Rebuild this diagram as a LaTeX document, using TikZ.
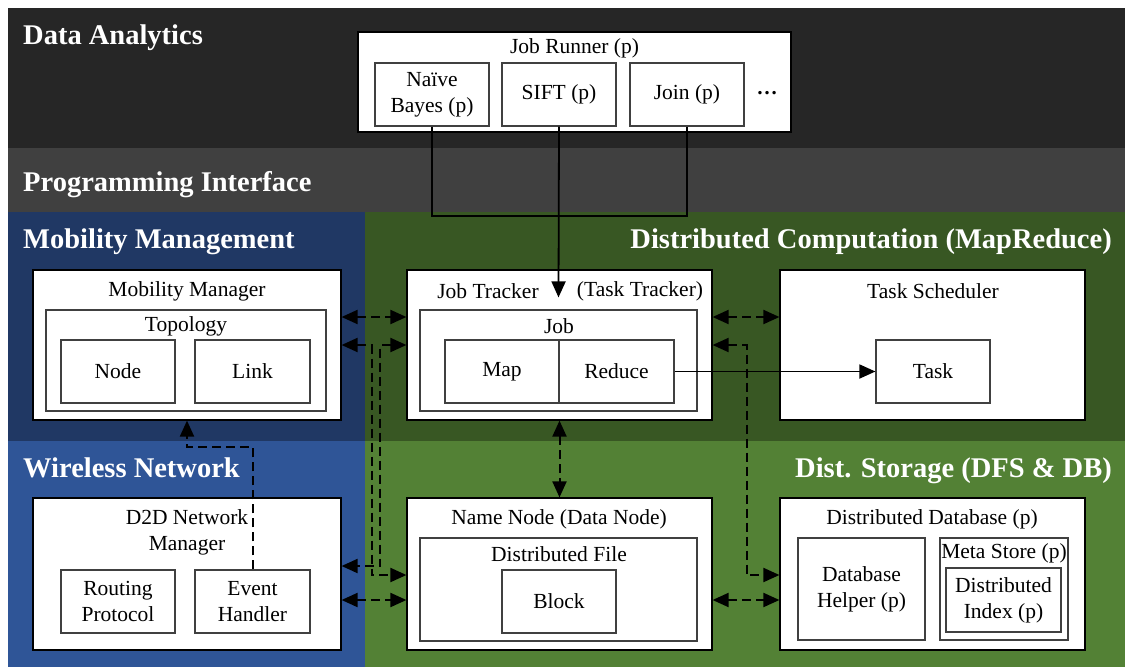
\documentclass[tikz,border=0pt]{standalone}
\usepackage{fontspec}
\setmainfont{Liberation Serif}
\usetikzlibrary{arrows.meta}

\definecolor{analytics}{HTML}{262626}
\definecolor{proginterface}{HTML}{404040}
\definecolor{mobility}{HTML}{203864}
\definecolor{computation}{HTML}{385723}
\definecolor{wireless}{HTML}{2F5597}
\definecolor{storage}{HTML}{538135}

\tikzset{
  outerbox/.style={draw=black, line width=1.2pt, fill=white, inner sep=0pt},
  innerbox/.style={draw=black!75, line width=1.2pt, fill=white, inner sep=0pt, align=center},
  boxtitle/.style={inner sep=0pt, align=center},
  heading/.style={text=white, inner sep=0pt, font=\fontsize{28.5}{32}\selectfont\bfseries},
  flow/.style={line width=1.8pt, -{Triangle[length=16pt,width=14pt]}},
  link/.style={line width=2pt, dash pattern=on 9pt off 5pt,
     {Triangle[length=16pt,width=14pt]}-{Triangle[length=16pt,width=14pt]}},
  linkone/.style={line width=2pt, dash pattern=on 9pt off 5pt, -{Triangle[length=16pt,width=14pt]}}
}

\begin{document}
\begin{tikzpicture}[x=1pt, y=-1pt, font=\fontsize{21.5}{26}\selectfont]
   \useasboundingbox (0,0) rectangle (1125,667);

   % layers
   \fill[analytics] (8,8) rectangle (1125,148);
   \fill[proginterface] (8,148) rectangle (1125,212);
   \fill[mobility] (8,212) rectangle (365,441);
   \fill[computation] (365,212) rectangle (1125,441);
   \fill[wireless] (8,441) rectangle (365,667);
   \fill[storage] (365,441) rectangle (1125,667);

   \node[heading, anchor=base west] (hana) at (23,44) {Data Analytics};
   \node[heading, anchor=base west] (hpro) at (23,191) {Programming Interface};
   \node[heading, anchor=base west] (hmob) at (23,248) {Mobility Management};
   \node[heading, anchor=base east] (hcom) at (1112,248) {Distributed Computation (MapReduce)};
   \node[heading, anchor=base west] (hwir) at (23,477) {Wireless Network};
   \node[heading, anchor=base east] (hsto) at (1112,477) {Dist. Storage (DFS \& DB)};

   % data analytics
   \node[outerbox, minimum width=433, minimum height=100] (runner) at (574.5,82) {};
   \node[boxtitle] (runnert) at (574.5,48) {Job Runner (p)};
   \node[innerbox, minimum width=114, minimum height=63] (nb) at (432,94.5) {Naïve\\Bayes (p)};
   \node[innerbox, minimum width=114, minimum height=63] (sift) at (559,94.5) {SIFT (p)};
   \node[innerbox, minimum width=114, minimum height=63] (join) at (687,94.5) {Join (p)};
   \node[boxtitle, font=\fontsize{21}{25}\selectfont\bfseries] (more) at (767,93) {…};

   % mobility management
   \node[outerbox, minimum width=308, minimum height=150] (mm) at (187,345) {};
   \node[boxtitle] (mmt) at (187,291) {Mobility Manager};
   \node[innerbox, minimum width=280, minimum height=101] (topo) at (186,360.5) {};
   \node[boxtitle] (topot) at (186,326) {Topology};
   \node[innerbox, minimum width=114, minimum height=63] (nodebox) at (118,371.5) {Node};
   \node[innerbox, minimum width=115, minimum height=63] (linkbox) at (252.5,371.5) {Link};

   % distributed computation
   \node[outerbox, minimum width=305, minimum height=150] (jt) at (559.5,345) {};
   \node[boxtitle] (jtt) at (488,291) {Job Tracker};
   \node[boxtitle] (ttt) at (640,291) {(Task Tracker)};
   \node[innerbox, minimum width=277, minimum height=101] (job) at (558.5,360.5) {};
   \node[boxtitle] (jobt) at (559,326) {Job};
   \node[innerbox, minimum width=114, minimum height=63] (map) at (502,371.5) {Map};
   \node[innerbox, minimum width=115, minimum height=63] (reduce) at (616.5,371.5) {Reduce};

   \node[outerbox, minimum width=305, minimum height=150] (ts) at (932.5,345) {};
   \node[boxtitle] (tst) at (933,291) {Task Scheduler};
   \node[innerbox, minimum width=114, minimum height=63] (task) at (933,371.5) {Task};

   % wireless network
   \node[outerbox, minimum width=308, minimum height=152] (d2d) at (187,574) {};
   \node[boxtitle] (d2dt) at (187,532) {D2D Network\\Manager};
   \node[innerbox, minimum width=114, minimum height=63] (routing) at (118,601.5) {Routing\\Protocol};
   \node[innerbox, minimum width=115, minimum height=63] (event) at (252.5,601.5) {Event\\Handler};

   % distributed storage
   \node[outerbox, minimum width=305, minimum height=152] (nn) at (559.5,574) {};
   \node[boxtitle] (nnt) at (559,519) {Name Node (Data Node)};
   \node[innerbox, minimum width=277, minimum height=103] (dfile) at (558.5,589.5) {};
   \node[boxtitle] (dfilet) at (559,554) {Distributed File};
   \node[innerbox, minimum width=114, minimum height=63] (block) at (559,601.5) {Block};

   \node[outerbox, minimum width=305, minimum height=152] (ddb) at (932.5,574) {};
   \node[boxtitle] (ddbt) at (932,519) {Distributed Database (p)};
   \node[innerbox, minimum width=127, minimum height=102] (helper) at (861.5,589) {Database\\Helper (p)};
   \node[innerbox, minimum width=128, minimum height=102] (meta) at (1004,589) {};
   \node[boxtitle] (metat) at (1004,553) {Meta Store (p)};
   \node[innerbox, minimum width=115, minimum height=64] (index) at (1003.5,600) {Distributed\\Index (p)};

   % connectors
   \coordinate (bus) at (559,216);
   \draw[line width=1.8pt] (nb.south) |- (bus);
   \draw[line width=1.8pt] (join.south) |- (bus);
   \draw[flow] (sift.south) -- ([yshift=12pt]job.north);
   \draw[flow] (reduce.east) -- (task.west);

   \draw[link] ([yshift=28pt]mm.east) -- ([yshift=28pt]jt.west);
   \draw[link] (mm.east) -- ++(30,0) |- ([yshift=-1pt]nn.west);
   \draw[link] (jt.west) -- ++(-26,0) |- ([yshift=8pt]d2d.east);
   \draw[link] ([yshift=-26pt]d2d.east) -- ([yshift=-26pt]nn.west);

   \draw[link] ([yshift=28pt]jt.east) -- ([yshift=28pt]ts.west);
   \draw[link] (jt.east) -- ++(34,0) |- ([yshift=-1pt]ddb.west);
   \draw[link] ([yshift=-26pt]nn.east) -- ([yshift=-26pt]ddb.west);

   \draw[link] (jt.south) -- (nn.north);
   \draw[linkone] (event.north) -- ++(0,-122) -| (mm.south);

\end{tikzpicture}
\end{document}
